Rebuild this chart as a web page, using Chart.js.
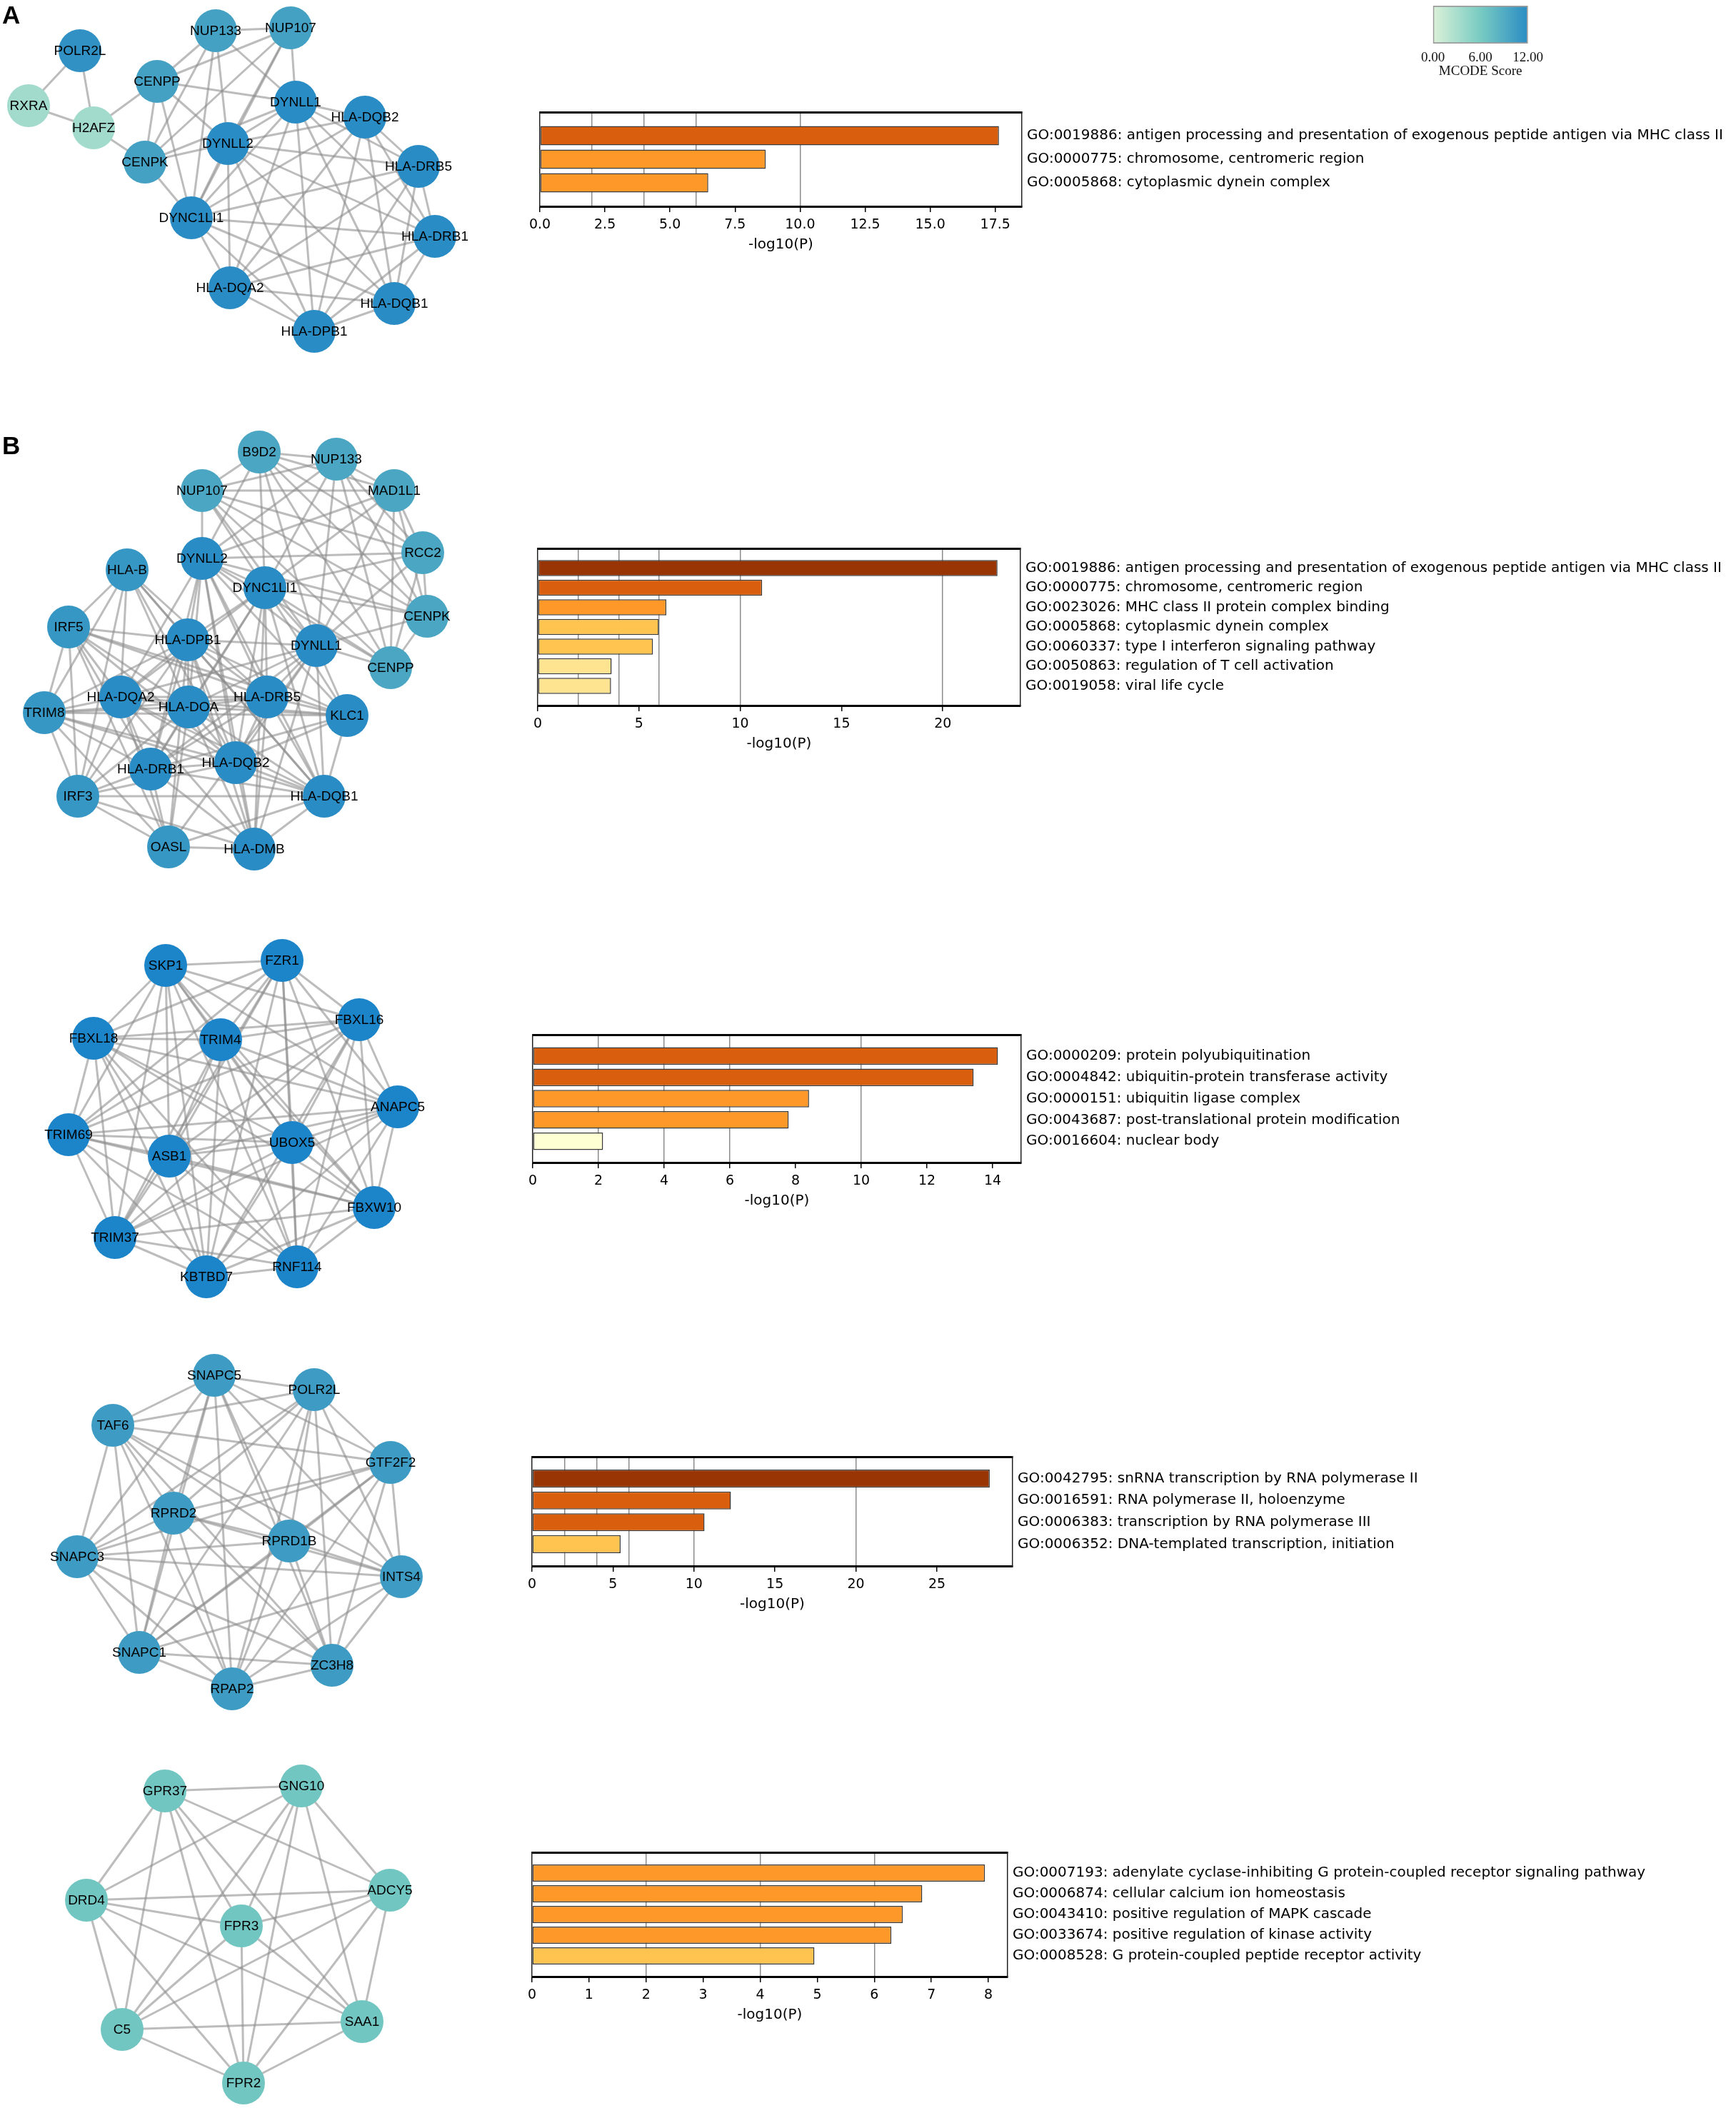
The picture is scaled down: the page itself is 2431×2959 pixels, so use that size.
<!DOCTYPE html>
<html>
<head>
<meta charset="utf-8">
<script src="https://cdn.jsdelivr.net/npm/chart.js@4.4.1/dist/chart.umd.min.js"></script>
<style>
  html, body { margin: 0; padding: 0; background: #fff; }
  #page { position: relative; width: 2431px; height: 2959px; background: #fff; overflow: hidden; }
  #page canvas { position: absolute; }
  .panel { position: absolute; z-index: 5; font: bold 35px "Liberation Sans", Arial, sans-serif; line-height: 35px; color: #000; }
</style>
</head>
<body>
<div id="page">
  <div class="panel" style="left:3px;top:3px">A</div>
  <div class="panel" style="left:3px;top:606px">B</div>
</div>
<script>
/* ===== DATA ===== */
// panel A network (positions in page pixels, MCODE score per node)
const NODES_A = ['POLR2L','RXRA','H2AFZ','CENPP','CENPK','NUP133','NUP107','DYNLL1','DYNLL2','DYNC1LI1','HLA-DQB2','HLA-DRB5','HLA-DRB1','HLA-DQB1','HLA-DPB1','HLA-DQA2'];
const X_A = [112, 40, 131, 220, 203, 302, 407, 414, 319, 268, 511, 586, 609, 552, 440, 322];
const Y_A = [71, 148, 179, 114, 227, 43, 39, 143, 201, 305, 164, 233, 331, 425, 464, 403];
const SCORE_A = [11.5, 3.5, 3.5, 10, 10, 10, 10, 12, 12, 12, 12, 12, 12, 12, 12, 12];
const EDGES_A = [
  'POLR2L: RXRA H2AFZ',
  'RXRA: H2AFZ',
  'H2AFZ: CENPP CENPK',
  'CENPP: CENPK NUP133 NUP107 DYNLL1 DYNLL2 DYNC1LI1',
  'CENPK: NUP133 NUP107 DYNLL1 DYNLL2 DYNC1LI1',
  'NUP133: NUP107 DYNLL1 DYNLL2 DYNC1LI1',
  'NUP107: DYNLL1 DYNLL2 DYNC1LI1',
  'DYNLL1: DYNLL2 DYNC1LI1 HLA-DQB2 HLA-DRB5 HLA-DRB1 HLA-DQB1 HLA-DPB1 HLA-DQA2',
  'DYNLL2: DYNC1LI1 HLA-DQB2 HLA-DRB5 HLA-DRB1 HLA-DQB1 HLA-DPB1 HLA-DQA2',
  'DYNC1LI1: HLA-DQB2 HLA-DRB5 HLA-DRB1 HLA-DQB1 HLA-DPB1 HLA-DQA2',
  'HLA-DQB2: HLA-DRB5 HLA-DRB1 HLA-DQB1 HLA-DPB1 HLA-DQA2',
  'HLA-DRB5: HLA-DRB1 HLA-DQB1 HLA-DPB1 HLA-DQA2',
  'HLA-DRB1: HLA-DQB1 HLA-DPB1 HLA-DQA2',
  'HLA-DQB1: HLA-DPB1 HLA-DQA2',
  'HLA-DPB1: HLA-DQA2'
];

// panel B, cluster 1
const NODES_B1 = ['B9D2','NUP133','NUP107','MAD1L1','RCC2','CENPK','CENPP','DYNLL2','DYNC1LI1','HLA-B','IRF5','HLA-DPB1','DYNLL1','HLA-DQA2','HLA-DOA','HLA-DRB5','KLC1','TRIM8','HLA-DRB1','HLA-DQB2','IRF3','HLA-DQB1','OASL','HLA-DMB'];
const X_B1 = [363, 471, 283, 552, 592, 598, 547, 283, 371, 178, 96, 263, 443, 169, 264, 374, 486, 62, 211, 330, 109, 454, 236, 356];
const Y_B1 = [633, 643, 687, 687, 774, 863, 935, 782, 823, 798, 878, 896, 904, 976, 990, 976, 1002, 998, 1077, 1068, 1115, 1115, 1186, 1189];
const SCORE_B1 = [9.5, 9.5, 9.5, 9.5, 9.5, 9.5, 9.5, 12, 12, 11, 11, 12, 12, 12, 12, 12, 12, 11, 12, 12, 11, 12, 11, 12];
const EDGES_B1 = [
  'B9D2: NUP133 NUP107 MAD1L1 RCC2 CENPK CENPP DYNLL2 DYNC1LI1 DYNLL1',
  'NUP133: NUP107 MAD1L1 RCC2 CENPK CENPP DYNLL2 DYNC1LI1 DYNLL1',
  'NUP107: MAD1L1 RCC2 CENPK CENPP DYNLL2 DYNC1LI1 DYNLL1',
  'MAD1L1: RCC2 CENPK CENPP DYNLL2 DYNC1LI1 DYNLL1',
  'RCC2: CENPK CENPP DYNLL2 DYNC1LI1 DYNLL1',
  'CENPK: CENPP DYNLL2 DYNC1LI1 DYNLL1',
  'CENPP: DYNLL2 DYNC1LI1 DYNLL1',
  'DYNLL2: DYNC1LI1 DYNLL1 KLC1 HLA-DPB1 HLA-DQA2 HLA-DOA HLA-DRB5 HLA-DRB1 HLA-DQB2 HLA-DQB1 HLA-DMB',
  'DYNC1LI1: DYNLL1 KLC1 HLA-DPB1 HLA-DQA2 HLA-DOA HLA-DRB5 HLA-DRB1 HLA-DQB2 HLA-DQB1 HLA-DMB',
  'DYNLL1: KLC1 HLA-DPB1 HLA-DQA2 HLA-DOA HLA-DRB5 HLA-DRB1 HLA-DQB2 HLA-DQB1 HLA-DMB OASL',
  'KLC1: HLA-DPB1 HLA-DQA2 HLA-DOA HLA-DRB5 HLA-DRB1 HLA-DQB2 HLA-DQB1 IRF5 TRIM8',
  'HLA-B: IRF5 TRIM8 IRF3 HLA-DPB1 HLA-DQA2 HLA-DOA HLA-DRB5 HLA-DQB2 HLA-DQB1',
  'IRF5: TRIM8 IRF3 OASL HLA-DPB1 HLA-DQA2 HLA-DOA HLA-DRB5 HLA-DRB1 HLA-DQB2',
  'TRIM8: IRF3 OASL HLA-DPB1 HLA-DQA2 HLA-DOA HLA-DRB5 HLA-DRB1 HLA-DQB2 HLA-DQB1',
  'IRF3: OASL HLA-DPB1 HLA-DQA2 HLA-DOA HLA-DRB1 HLA-DQB2 HLA-DQB1 HLA-DMB',
  'OASL: HLA-DPB1 HLA-DQA2 HLA-DOA HLA-DRB1 HLA-DQB1 HLA-DMB',
  'HLA-DPB1: HLA-DQA2 HLA-DOA HLA-DRB5 HLA-DRB1 HLA-DQB2 HLA-DQB1 HLA-DMB',
  'HLA-DQA2: HLA-DOA HLA-DRB5 HLA-DRB1 HLA-DQB2 HLA-DQB1 HLA-DMB',
  'HLA-DOA: HLA-DRB5 HLA-DRB1 HLA-DQB2 HLA-DQB1 HLA-DMB',
  'HLA-DRB5: HLA-DRB1 HLA-DQB2 HLA-DQB1 HLA-DMB',
  'HLA-DRB1: HLA-DQB2 HLA-DQB1 HLA-DMB',
  'HLA-DQB2: HLA-DQB1 HLA-DMB',
  'HLA-DQB1: HLA-DMB'
];

// panel B, cluster 2
const NODES_B2 = ['SKP1','FZR1','FBXL16','FBXL18','TRIM4','ANAPC5','TRIM69','UBOX5','ASB1','FBXW10','TRIM37','KBTBD7','RNF114'];
const X_B2 = [232, 395, 503, 131, 309, 557, 96, 409, 237, 524, 161, 289, 416];
const Y_B2 = [1352, 1345, 1428, 1454, 1456, 1550, 1589, 1600, 1619, 1691, 1733, 1788, 1774];
const SCORE_B2 = [13, 13, 13, 13, 13, 13, 13, 13, 13, 13, 13, 13, 13];
const EDGES_B2 = [
  'SKP1: FZR1 FBXL16 FBXL18 TRIM4 ANAPC5 TRIM69 UBOX5 ASB1 FBXW10 TRIM37 KBTBD7 RNF114',
  'FZR1: FBXL16 FBXL18 TRIM4 ANAPC5 TRIM69 UBOX5 ASB1 FBXW10 TRIM37 KBTBD7 RNF114',
  'FBXL16: FBXL18 TRIM4 ANAPC5 TRIM69 UBOX5 ASB1 FBXW10 TRIM37 KBTBD7 RNF114',
  'FBXL18: TRIM4 ANAPC5 TRIM69 UBOX5 ASB1 FBXW10 TRIM37 KBTBD7 RNF114',
  'TRIM4: ANAPC5 TRIM69 UBOX5 ASB1 FBXW10 TRIM37 KBTBD7 RNF114',
  'ANAPC5: TRIM69 UBOX5 ASB1 FBXW10 TRIM37 KBTBD7 RNF114',
  'TRIM69: UBOX5 ASB1 FBXW10 TRIM37 KBTBD7 RNF114',
  'UBOX5: ASB1 FBXW10 TRIM37 KBTBD7 RNF114',
  'ASB1: FBXW10 TRIM37 KBTBD7 RNF114',
  'FBXW10: TRIM37 KBTBD7 RNF114',
  'TRIM37: KBTBD7 RNF114',
  'KBTBD7: RNF114'
];

// panel B, cluster 3
const NODES_B3 = ['SNAPC5','POLR2L','TAF6','GTF2F2','RPRD2','RPRD1B','SNAPC3','INTS4','SNAPC1','ZC3H8','RPAP2'];
const X_B3 = [300, 440, 158, 547, 243, 405, 108, 562, 195, 465, 325];
const Y_B3 = [1926, 1946, 1996, 2048, 2119, 2158, 2180, 2208, 2314, 2332, 2365];
const SCORE_B3 = [10.5, 10.5, 10.5, 10.5, 10.5, 10.5, 10.5, 10.5, 10.5, 10.5, 10.5];
const EDGES_B3 = [
  'SNAPC5: POLR2L TAF6 GTF2F2 RPRD2 RPRD1B SNAPC3 INTS4 SNAPC1 ZC3H8 RPAP2',
  'POLR2L: TAF6 GTF2F2 RPRD2 RPRD1B SNAPC3 INTS4 SNAPC1 ZC3H8 RPAP2',
  'TAF6: GTF2F2 RPRD2 RPRD1B SNAPC3 INTS4 SNAPC1 ZC3H8 RPAP2',
  'GTF2F2: RPRD2 RPRD1B SNAPC3 INTS4 SNAPC1 ZC3H8 RPAP2',
  'RPRD2: RPRD1B SNAPC3 INTS4 SNAPC1 ZC3H8 RPAP2',
  'RPRD1B: SNAPC3 INTS4 SNAPC1 ZC3H8 RPAP2',
  'SNAPC3: INTS4 SNAPC1 ZC3H8 RPAP2',
  'INTS4: SNAPC1 ZC3H8 RPAP2',
  'SNAPC1: ZC3H8 RPAP2',
  'ZC3H8: RPAP2'
];

// panel B, cluster 4
const NODES_B4 = ['GPR37','GNG10','DRD4','ADCY5','FPR3','C5','SAA1','FPR2'];
const X_B4 = [231, 422, 121, 546, 338, 171, 507, 341];
const Y_B4 = [2508, 2501, 2661, 2647, 2697, 2842, 2831, 2917];
const SCORE_B4 = [6.5, 6.5, 6.5, 6.5, 6.5, 6.5, 6.5, 6.5];
const EDGES_B4 = [
  'GPR37: GNG10 DRD4 ADCY5 FPR3 C5 SAA1 FPR2',
  'GNG10: DRD4 ADCY5 FPR3 C5 SAA1 FPR2',
  'DRD4: ADCY5 FPR3 C5 SAA1 FPR2',
  'ADCY5: FPR3 C5 SAA1 FPR2',
  'FPR3: C5 SAA1 FPR2',
  'C5: SAA1 FPR2',
  'SAA1: FPR2'
];

// enrichment bars: GO terms and -log10(P)
const TERMS_A = [
  'GO:0019886: antigen processing and presentation of exogenous peptide antigen via MHC class II',
  'GO:0000775: chromosome, centromeric region',
  'GO:0005868: cytoplasmic dynein complex'
];
const LOGP_A = [17.64, 8.68, 6.47];

const TERMS_B1 = [
  'GO:0019886: antigen processing and presentation of exogenous peptide antigen via MHC class II',
  'GO:0000775: chromosome, centromeric region',
  'GO:0023026: MHC class II protein complex binding',
  'GO:0005868: cytoplasmic dynein complex',
  'GO:0060337: type I interferon signaling pathway',
  'GO:0050863: regulation of T cell activation',
  'GO:0019058: viral life cycle'
];
const LOGP_B1 = [22.7, 11.08, 6.35, 5.98, 5.69, 3.65, 3.62];

const TERMS_B2 = [
  'GO:0000209: protein polyubiquitination',
  'GO:0004842: ubiquitin-protein transferase activity',
  'GO:0000151: ubiquitin ligase complex',
  'GO:0043687: post-translational protein modification',
  'GO:0016604: nuclear body'
];
const LOGP_B2 = [14.16, 13.42, 8.41, 7.79, 2.14];

const TERMS_B3 = [
  'GO:0042795: snRNA transcription by RNA polymerase II',
  'GO:0016591: RNA polymerase II, holoenzyme',
  'GO:0006383: transcription by RNA polymerase III',
  'GO:0006352: DNA-templated transcription, initiation'
];
const LOGP_B3 = [28.26, 12.28, 10.65, 5.47];

const TERMS_B4 = [
  'GO:0007193: adenylate cyclase-inhibiting G protein-coupled receptor signaling pathway',
  'GO:0006874: cellular calcium ion homeostasis',
  'GO:0043410: positive regulation of MAPK cascade',
  'GO:0033674: positive regulation of kinase activity',
  'GO:0008528: G protein-coupled peptide receptor activity'
];
const LOGP_B4 = [7.94, 6.84, 6.50, 6.30, 4.95];

// thresholds drawn as vertical lines, and MCODE colour bar ticks
const GRID_AT = [2, 4, 6, 10, 20];
const MCODE_TICKS = [0, 6, 12];

/* ===== STYLE ===== */
const PAGE_W = 2431;
const FONT_MPL = '"DejaVu Sans", sans-serif';
const FONT_NODE = '"Liberation Sans", Arial, sans-serif';
const FONT_SERIF = '"Liberation Serif", "Times New Roman", serif';
const SCORE_STOPS = [[0, [220, 241, 217]], [6, [120, 203, 194]], [12, [42, 140, 196]], [13, [28, 132, 201]]];
const BINS = [[20, '#993404'], [10, '#d95f0e'], [6, '#fe9929'], [4, '#fec44f'], [3, '#fee391'], [0, '#ffffd4']];

/* ===== HELPERS ===== */
const page = document.getElementById('page');

function makeCanvas(left, top, w, h) {
  const c = document.createElement('canvas');
  c.width = w; c.height = h;
  c.style.left = left + 'px'; c.style.top = top + 'px';
  c.style.width = w + 'px'; c.style.height = h + 'px';
  page.appendChild(c);
  return c;
}

function scoreColor(s) {
  for (let i = 1; i < SCORE_STOPS.length; i++) {
    const [s0, c0] = SCORE_STOPS[i - 1], [s1, c1] = SCORE_STOPS[i];
    if (s <= s1 || i === SCORE_STOPS.length - 1) {
      const t = Math.max(0, Math.min(1, (s - s0) / (s1 - s0)));
      const c = c0.map((v, k) => Math.round(v + (c1[k] - v) * t));
      return `rgb(${c[0]},${c[1]},${c[2]})`;
    }
  }
}

const binColor = v => BINS.find(b => v >= b[0])[1];

function parseEdges(lines) {
  const out = [], seen = new Set();
  for (const line of lines) {
    const [a, rest] = line.split(':');
    for (const b of rest.trim().split(/\s+/)) {
      const key = [a.trim(), b].sort().join('|');
      if (!seen.has(key)) { seen.add(key); out.push([a.trim(), b]); }
    }
  }
  return out;
}

// draws the gene name on top of each node
const nodeLabels = {
  id: 'nodeLabels',
  afterDatasetsDraw(chart) {
    const ds = chart.data.datasets[0];
    const meta = chart.getDatasetMeta(0);
    const ctx = chart.ctx;
    ctx.save();
    ctx.font = '19px ' + FONT_NODE;
    ctx.fillStyle = '#000';
    ctx.textAlign = 'center';
    ctx.textBaseline = 'middle';
    meta.data.forEach((pt, i) => ctx.fillText(ds.names[i], pt.x, pt.y + 1));
    ctx.restore();
  }
};

function network(box, names, xs, ys, scores, edgeLines) {
  const canvas = makeCanvas(box.x, box.y, box.w, box.h);
  const pos = {};
  names.forEach((n, i) => { pos[n] = {x: xs[i], y: ys[i]}; });
  const edgeSets = parseEdges(edgeLines).map(([a, b]) => ({
    data: [{x: pos[a].x, y: pos[a].y}, {x: pos[b].x, y: pos[b].y}],
    showLine: true, pointRadius: 0, borderColor: 'rgba(140,140,140,0.58)', borderWidth: 3,
    clip: false, order: 1
  }));
  new Chart(canvas, {
    type: 'scatter',
    data: {
      datasets: [{
        names,
        data: names.map((n, i) => ({x: xs[i], y: ys[i]})),
        pointRadius: 30, pointHoverRadius: 30,
        backgroundColor: scores.map(scoreColor), borderWidth: 0,
        clip: false, order: 0
      }, ...edgeSets]
    },
    options: {
      responsive: false, animation: false, events: [],
      layout: {padding: 0, autoPadding: false},
      plugins: {legend: {display: false}, tooltip: {enabled: false}},
      scales: {
        x: {type: 'linear', display: false, min: box.x, max: box.x + box.w},
        y: {type: 'linear', display: false, min: box.y, max: box.y + box.h, reverse: true}
      }
    },
    plugins: [nodeLabels]
  });
}

function barChart(box, terms, values, step, decimals) {
  const n = values.length;
  const xmax = Math.max(...values) * 1.05;
  // TOP_H leaves room for half a label line that Chart.js reserves above the right axis
  const PAD_L = 30, TOP_H = 16, AXIS_H = 66;
  const labelW = PAGE_W - box.r;
  const rows = s => { s.ticks = values.map((v, i) => ({value: i})); };
  const canvas = makeCanvas(box.l - PAD_L, box.t - TOP_H,
    box.r - box.l + PAD_L + labelW, box.b - box.t + TOP_H + AXIS_H);
  new Chart(canvas, {
    type: 'bar',
    data: {
      datasets: [{
        data: values.map((v, i) => ({x: v, y: i})),
        backgroundColor: values.map(binColor),
        borderColor: '#3a3a3a', borderWidth: 1.5, borderSkipped: false,
        categoryPercentage: 1, barPercentage: 0.82
      }]
    },
    options: {
      indexAxis: 'y', responsive: false, animation: false, events: [],
      layout: {padding: 0, autoPadding: false},
      plugins: {legend: {display: false}, tooltip: {enabled: false}},
      scales: {
        x: {
          type: 'linear', position: 'bottom', min: 0, max: xmax,
          ticks: {stepSize: step, includeBounds: false, autoSkip: false, maxRotation: 0,
            callback: v => v.toFixed(decimals), font: {family: FONT_MPL, size: 19}, color: '#000', padding: 7},
          grid: {drawOnChartArea: false, drawTicks: true, tickLength: 8, color: '#000', lineWidth: 1.5},
          border: {display: true, color: '#000', width: 3},
          title: {display: true, text: '-log10(P)', font: {family: FONT_MPL, size: 20}, color: '#000', padding: {top: 0, bottom: 0}},
          afterFit: s => { s.height = AXIS_H; }
        },
        x2: {
          type: 'linear', position: 'top', min: 0, max: xmax,
          afterBuildTicks: s => { s.ticks = GRID_AT.filter(v => v < xmax).map(v => ({value: v})); },
          ticks: {display: false},
          grid: {color: '#8c8c8c', lineWidth: 1.5, drawTicks: false},
          border: {display: true, color: '#000', width: 3},
          afterFit: s => { s.height = TOP_H; }
        },
        y: {
          type: 'linear', position: 'left', min: -1, max: n, reverse: true, offset: false,
          afterBuildTicks: rows,
          ticks: {display: false}, grid: {display: false, drawTicks: false, offset: false},
          border: {display: true, color: '#222', width: 1.5},
          afterFit: s => { s.width = PAD_L; }
        },
        y2: {
          type: 'linear', position: 'right', min: -1, max: n, reverse: true, offset: false,
          afterBuildTicks: rows,
          ticks: {callback: v => terms[v], font: {family: FONT_MPL, size: 20}, color: '#000', padding: 7, autoSkip: false},
          grid: {display: false, drawTicks: false, offset: false},
          border: {display: true, color: '#222', width: 1.5},
          afterFit: s => { s.width = labelW; }
        }
      }
    }
  });
}

function colorBar() {
  const L = 2003, R = 2148, T = 8, B = 61, PAD = 22, H = 111;
  const canvas = makeCanvas(L - PAD, 0, R - L + 2 * PAD, H);
  new Chart(canvas, {
    type: 'bar',
    data: {
      labels: [''],
      datasets: [{
        data: [[MCODE_TICKS[0], MCODE_TICKS[MCODE_TICKS.length - 1]]],
        backgroundColor: ctx => {
          const {chart} = ctx, a = chart.chartArea;
          if (!a) return '#7bccc4';
          const g = chart.ctx.createLinearGradient(a.left, 0, a.right, 0);
          SCORE_STOPS.filter(s => s[0] <= 12).forEach(([s, c]) => g.addColorStop(s / 12, `rgb(${c.join(',')})`));
          return g;
        },
        borderColor: '#9c9c9c', borderWidth: 2, borderSkipped: false,
        categoryPercentage: 1, barPercentage: 1
      }]
    },
    options: {
      indexAxis: 'y', responsive: false, animation: false, events: [],
      layout: {padding: {top: T, left: PAD, right: PAD, bottom: 0}},
      plugins: {legend: {display: false}, tooltip: {enabled: false}},
      scales: {
        x: {
          type: 'linear', min: 0, max: 12,
          afterBuildTicks: s => { s.ticks = MCODE_TICKS.map(v => ({value: v})); },
          ticks: {callback: v => v.toFixed(2), font: {family: FONT_SERIF, size: 19}, color: '#111', padding: 9, maxRotation: 0, autoSkip: false},
          grid: {display: false, drawTicks: false}, border: {display: false},
          title: {display: true, text: 'MCODE Score', font: {family: FONT_SERIF, size: 19}, color: '#111', padding: {top: 0, bottom: 0}},
          afterFit: s => { s.height = H - B; }
        },
        y: {display: false}
      }
    }
  });
}

/* ===== MAIN ===== */
network({x: 0, y: 0, w: 700, h: 545}, NODES_A, X_A, Y_A, SCORE_A, EDGES_A);
network({x: 0, y: 560, w: 700, h: 690}, NODES_B1, X_B1, Y_B1, SCORE_B1, EDGES_B1);
network({x: 0, y: 1270, w: 700, h: 580}, NODES_B2, X_B2, Y_B2, SCORE_B2, EDGES_B2);
network({x: 0, y: 1860, w: 700, h: 580}, NODES_B3, X_B3, Y_B3, SCORE_B3, EDGES_B3);
network({x: 0, y: 2450, w: 700, h: 509}, NODES_B4, X_B4, Y_B4, SCORE_B4, EDGES_B4);

barChart({l: 756, r: 1431, t: 154, b: 289}, TERMS_A, LOGP_A, 2.5, 1);
barChart({l: 753, r: 1429, t: 765, b: 988}, TERMS_B1, LOGP_B1, 5, 0);
barChart({l: 746, r: 1430, t: 1446, b: 1628}, TERMS_B2, LOGP_B2, 2, 0);
barChart({l: 745, r: 1418, t: 2037, b: 2193}, TERMS_B3, LOGP_B3, 5, 0);
barChart({l: 745, r: 1411, t: 2591, b: 2768}, TERMS_B4, LOGP_B4, 1, 0);

colorBar();
</script>
</body>
</html>
